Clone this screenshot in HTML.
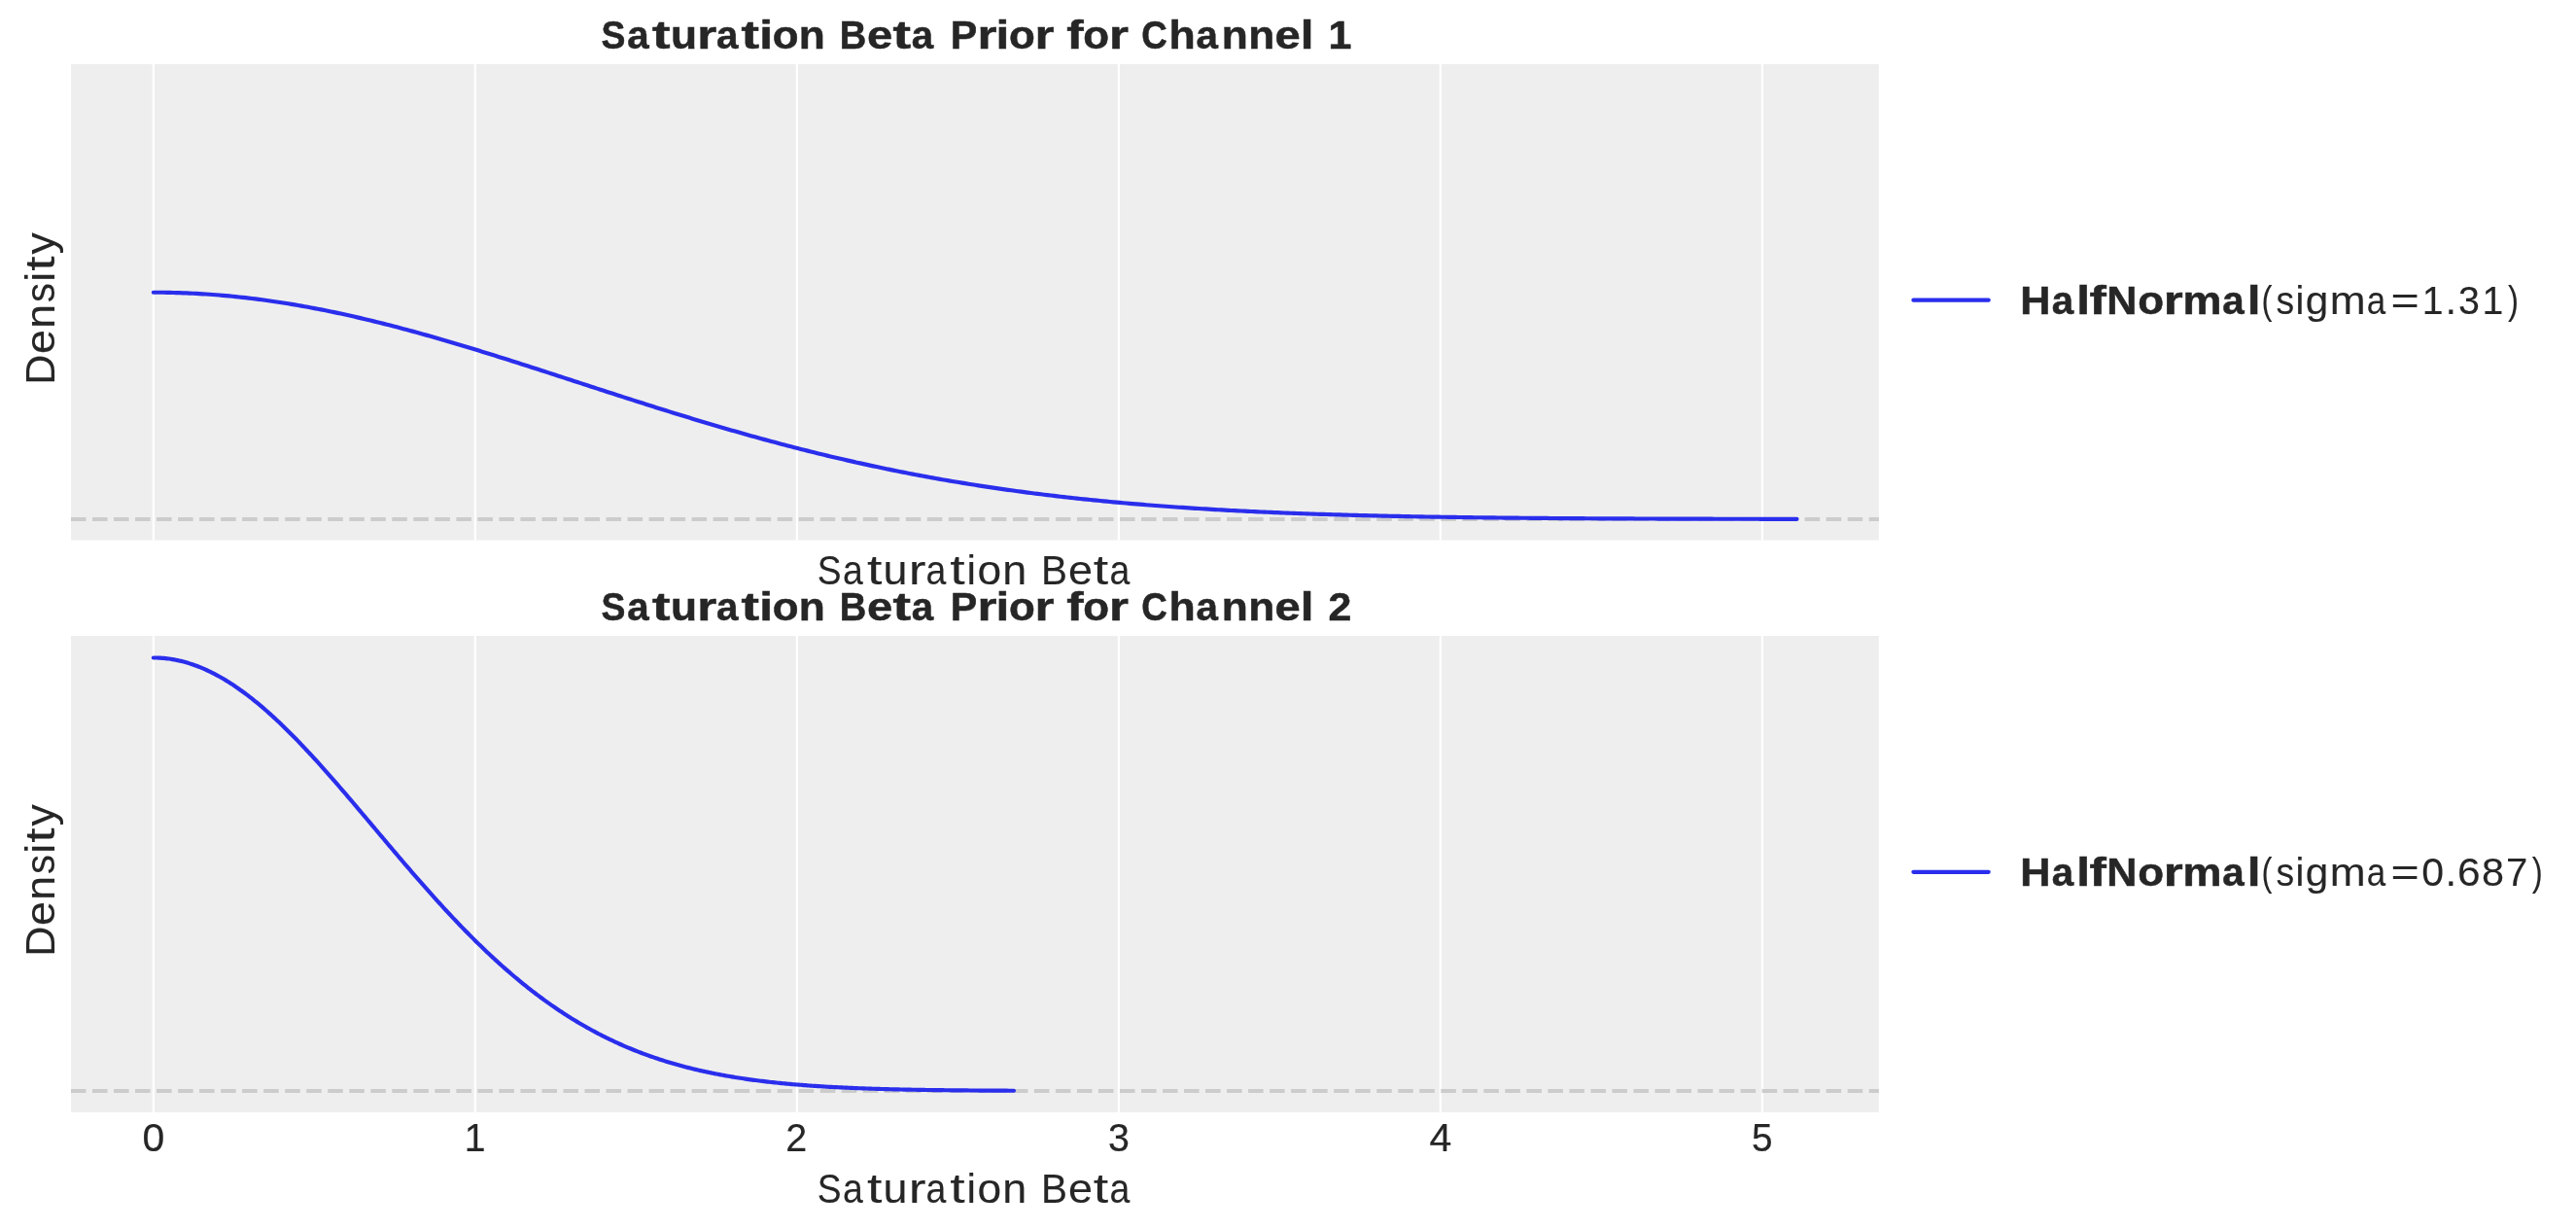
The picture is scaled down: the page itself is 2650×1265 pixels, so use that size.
<!DOCTYPE html>
<html><head><meta charset="utf-8"><title>Saturation Beta Priors</title>
<style>html,body{margin:0;padding:0;background:#fff;overflow:hidden}svg{display:block;will-change:transform}text{font-family:"Liberation Sans",sans-serif}</style>
</head><body>
<svg width="2650" height="1265" viewBox="0 0 2650 1265">
<rect x="0" y="0" width="2650" height="1265" fill="#ffffff"/>
<rect x="73.0" y="66.0" width="1859.85" height="489.60" fill="#eeeeee"/>
<rect x="156.74" y="66.0" width="2.22" height="489.60" fill="#ffffff"/>
<rect x="487.74" y="66.0" width="2.22" height="489.60" fill="#ffffff"/>
<rect x="818.74" y="66.0" width="2.22" height="489.60" fill="#ffffff"/>
<rect x="1149.74" y="66.0" width="2.22" height="489.60" fill="#ffffff"/>
<rect x="1480.74" y="66.0" width="2.22" height="489.60" fill="#ffffff"/>
<rect x="1811.74" y="66.0" width="2.22" height="489.60" fill="#ffffff"/>
<line x1="73.0" y1="533.96" x2="1932.85" y2="533.96" stroke="#cccccc" stroke-width="4.0" stroke-dasharray="15.55 6.47"/>
<polyline points="157.85,300.72 161.23,300.73 164.61,300.75 167.99,300.79 171.37,300.84 174.76,300.90 178.14,300.98 181.52,301.07 184.90,301.18 188.28,301.30 191.66,301.43 195.04,301.58 198.42,301.74 201.81,301.91 205.19,302.10 208.57,302.31 211.95,302.52 215.33,302.76 218.71,303.00 222.09,303.26 225.47,303.53 228.86,303.82 232.24,304.12 235.62,304.43 239.00,304.76 242.38,305.10 245.76,305.45 249.14,305.82 252.52,306.19 255.91,306.59 259.29,306.99 262.67,307.41 266.05,307.84 269.43,308.29 272.81,308.75 276.19,309.22 279.57,309.70 282.95,310.19 286.34,310.70 289.72,311.22 293.10,311.75 296.48,312.30 299.86,312.85 303.24,313.42 306.62,314.00 310.00,314.59 313.39,315.20 316.77,315.81 320.15,316.44 323.53,317.08 326.91,317.72 330.29,318.38 333.67,319.06 337.05,319.74 340.44,320.43 343.82,321.13 347.20,321.85 350.58,322.57 353.96,323.31 357.34,324.05 360.72,324.81 364.10,325.57 367.49,326.35 370.87,327.13 374.25,327.92 377.63,328.73 381.01,329.54 384.39,330.36 387.77,331.19 391.15,332.03 394.53,332.88 397.92,333.73 401.30,334.60 404.68,335.47 408.06,336.35 411.44,337.24 414.82,338.14 418.20,339.05 421.58,339.96 424.97,340.88 428.35,341.81 431.73,342.74 435.11,343.68 438.49,344.63 441.87,345.58 445.25,346.55 448.63,347.51 452.02,348.49 455.40,349.47 458.78,350.45 462.16,351.44 465.54,352.44 468.92,353.44 472.30,354.45 475.68,355.47 479.07,356.48 482.45,357.51 485.83,358.54 489.21,359.57 492.59,360.61 495.97,361.65 499.35,362.69 502.73,363.74 506.11,364.79 509.50,365.85 512.88,366.91 516.26,367.97 519.64,369.04 523.02,370.11 526.40,371.18 529.78,372.26 533.16,373.34 536.55,374.42 539.93,375.50 543.31,376.59 546.69,377.67 550.07,378.76 553.45,379.85 556.83,380.95 560.21,382.04 563.60,383.14 566.98,384.23 570.36,385.33 573.74,386.43 577.12,387.53 580.50,388.63 583.88,389.73 587.26,390.83 590.64,391.93 594.03,393.03 597.41,394.13 600.79,395.23 604.17,396.33 607.55,397.43 610.93,398.53 614.31,399.63 617.69,400.73 621.08,401.82 624.46,402.92 627.84,404.01 631.22,405.10 634.60,406.20 637.98,407.29 641.36,408.37 644.74,409.46 648.13,410.55 651.51,411.63 654.89,412.71 658.27,413.79 661.65,414.86 665.03,415.93 668.41,417.01 671.79,418.07 675.18,419.14 678.56,420.20 681.94,421.26 685.32,422.32 688.70,423.37 692.08,424.42 695.46,425.46 698.84,426.51 702.22,427.55 705.61,428.58 708.99,429.61 712.37,430.64 715.75,431.67 719.13,432.69 722.51,433.70 725.89,434.71 729.27,435.72 732.66,436.72 736.04,437.72 739.42,438.72 742.80,439.71 746.18,440.69 749.56,441.67 752.94,442.65 756.32,443.62 759.71,444.58 763.09,445.54 766.47,446.50 769.85,447.45 773.23,448.40 776.61,449.34 779.99,450.27 783.37,451.20 786.76,452.12 790.14,453.04 793.52,453.96 796.90,454.86 800.28,455.77 803.66,456.66 807.04,457.55 810.42,458.44 813.80,459.32 817.19,460.19 820.57,461.06 823.95,461.92 827.33,462.78 830.71,463.63 834.09,464.47 837.47,465.31 840.85,466.15 844.24,466.97 847.62,467.79 851.00,468.61 854.38,469.41 857.76,470.22 861.14,471.01 864.52,471.80 867.90,472.59 871.29,473.36 874.67,474.13 878.05,474.90 881.43,475.66 884.81,476.41 888.19,477.16 891.57,477.90 894.95,478.63 898.34,479.36 901.72,480.08 905.10,480.79 908.48,481.50 911.86,482.20 915.24,482.90 918.62,483.59 922.00,484.27 925.38,484.95 928.77,485.62 932.15,486.28 935.53,486.94 938.91,487.59 942.29,488.24 945.67,488.88 949.05,489.51 952.43,490.14 955.82,490.76 959.20,491.37 962.58,491.98 965.96,492.58 969.34,493.18 972.72,493.77 976.10,494.35 979.48,494.93 982.87,495.50 986.25,496.06 989.63,496.62 993.01,497.17 996.39,497.72 999.77,498.26 1003.15,498.80 1006.53,499.33 1009.92,499.85 1013.30,500.37 1016.68,500.88 1020.06,501.39 1023.44,501.89 1026.82,502.38 1030.20,502.87 1033.58,503.35 1036.96,503.83 1040.35,504.30 1043.73,504.77 1047.11,505.23 1050.49,505.68 1053.87,506.13 1057.25,506.57 1060.63,507.01 1064.01,507.45 1067.40,507.87 1070.78,508.30 1074.16,508.71 1077.54,509.12 1080.92,509.53 1084.30,509.93 1087.68,510.33 1091.06,510.72 1094.45,511.10 1097.83,511.49 1101.21,511.86 1104.59,512.23 1107.97,512.60 1111.35,512.96 1114.73,513.31 1118.11,513.67 1121.50,514.01 1124.88,514.35 1128.26,514.69 1131.64,515.02 1135.02,515.35 1138.40,515.68 1141.78,515.99 1145.16,516.31 1148.54,516.62 1151.93,516.92 1155.31,517.22 1158.69,517.52 1162.07,517.81 1165.45,518.10 1168.83,518.39 1172.21,518.67 1175.59,518.94 1178.98,519.21 1182.36,519.48 1185.74,519.74 1189.12,520.00 1192.50,520.26 1195.88,520.51 1199.26,520.76 1202.64,521.00 1206.03,521.25 1209.41,521.48 1212.79,521.72 1216.17,521.94 1219.55,522.17 1222.93,522.39 1226.31,522.61 1229.69,522.83 1233.08,523.04 1236.46,523.25 1239.84,523.45 1243.22,523.65 1246.60,523.85 1249.98,524.05 1253.36,524.24 1256.74,524.43 1260.12,524.62 1263.51,524.80 1266.89,524.98 1270.27,525.16 1273.65,525.33 1277.03,525.50 1280.41,525.67 1283.79,525.83 1287.17,526.00 1290.56,526.16 1293.94,526.31 1297.32,526.47 1300.70,526.62 1304.08,526.77 1307.46,526.91 1310.84,527.06 1314.22,527.20 1317.61,527.34 1320.99,527.47 1324.37,527.61 1327.75,527.74 1331.13,527.87 1334.51,528.00 1337.89,528.12 1341.27,528.24 1344.65,528.36 1348.04,528.48 1351.42,528.60 1354.80,528.71 1358.18,528.82 1361.56,528.93 1364.94,529.04 1368.32,529.14 1371.70,529.25 1375.09,529.35 1378.47,529.45 1381.85,529.55 1385.23,529.64 1388.61,529.74 1391.99,529.83 1395.37,529.92 1398.75,530.01 1402.14,530.09 1405.52,530.18 1408.90,530.26 1412.28,530.34 1415.66,530.43 1419.04,530.50 1422.42,530.58 1425.80,530.66 1429.19,530.73 1432.57,530.80 1435.95,530.88 1439.33,530.95 1442.71,531.01 1446.09,531.08 1449.47,531.15 1452.85,531.21 1456.23,531.27 1459.62,531.34 1463.00,531.40 1466.38,531.46 1469.76,531.51 1473.14,531.57 1476.52,531.63 1479.90,531.68 1483.28,531.73 1486.67,531.79 1490.05,531.84 1493.43,531.89 1496.81,531.94 1500.19,531.98 1503.57,532.03 1506.95,532.08 1510.33,532.12 1513.72,532.17 1517.10,532.21 1520.48,532.25 1523.86,532.29 1527.24,532.33 1530.62,532.37 1534.00,532.41 1537.38,532.45 1540.77,532.49 1544.15,532.52 1547.53,532.56 1550.91,532.59 1554.29,532.63 1557.67,532.66 1561.05,532.69 1564.43,532.72 1567.81,532.75 1571.20,532.78 1574.58,532.81 1577.96,532.84 1581.34,532.87 1584.72,532.90 1588.10,532.92 1591.48,532.95 1594.86,532.98 1598.25,533.00 1601.63,533.03 1605.01,533.05 1608.39,533.07 1611.77,533.10 1615.15,533.12 1618.53,533.14 1621.91,533.16 1625.30,533.18 1628.68,533.20 1632.06,533.22 1635.44,533.24 1638.82,533.26 1642.20,533.28 1645.58,533.30 1648.96,533.31 1652.35,533.33 1655.73,533.35 1659.11,533.36 1662.49,533.38 1665.87,533.39 1669.25,533.41 1672.63,533.42 1676.01,533.44 1679.39,533.45 1682.78,533.47 1686.16,533.48 1689.54,533.49 1692.92,533.51 1696.30,533.52 1699.68,533.53 1703.06,533.54 1706.44,533.55 1709.83,533.56 1713.21,533.57 1716.59,533.59 1719.97,533.60 1723.35,533.61 1726.73,533.62 1730.11,533.63 1733.49,533.63 1736.88,533.64 1740.26,533.65 1743.64,533.66 1747.02,533.67 1750.40,533.68 1753.78,533.69 1757.16,533.69 1760.54,533.70 1763.93,533.71 1767.31,533.72 1770.69,533.72 1774.07,533.73 1777.45,533.74 1780.83,533.74 1784.21,533.75 1787.59,533.75 1790.97,533.76 1794.36,533.77 1797.74,533.77 1801.12,533.78 1804.50,533.78 1807.88,533.79 1811.26,533.79 1814.64,533.80 1818.02,533.80 1821.41,533.81 1824.79,533.81 1828.17,533.82 1831.55,533.82 1834.93,533.82 1838.31,533.83 1841.69,533.83 1845.07,533.84 1848.46,533.84" fill="none" stroke="#2a2eec" stroke-width="4.17" stroke-linecap="round" stroke-linejoin="round"/>
<rect x="73.0" y="654.0" width="1859.85" height="490.00" fill="#eeeeee"/>
<rect x="156.74" y="654.0" width="2.22" height="490.00" fill="#ffffff"/>
<rect x="487.74" y="654.0" width="2.22" height="490.00" fill="#ffffff"/>
<rect x="818.74" y="654.0" width="2.22" height="490.00" fill="#ffffff"/>
<rect x="1149.74" y="654.0" width="2.22" height="490.00" fill="#ffffff"/>
<rect x="1480.74" y="654.0" width="2.22" height="490.00" fill="#ffffff"/>
<rect x="1811.74" y="654.0" width="2.22" height="490.00" fill="#ffffff"/>
<line x1="73.0" y1="1121.96" x2="1932.85" y2="1121.96" stroke="#cccccc" stroke-width="4.0" stroke-dasharray="15.55 6.47"/>
<polyline points="157.85,676.46 159.62,676.47 161.39,676.51 163.16,676.58 164.93,676.68 166.70,676.80 168.47,676.95 170.24,677.12 172.01,677.32 173.78,677.55 175.55,677.81 177.32,678.09 179.09,678.40 180.86,678.73 182.63,679.10 184.40,679.48 186.17,679.90 187.94,680.34 189.71,680.81 191.48,681.30 193.25,681.82 195.02,682.37 196.79,682.94 198.56,683.54 200.33,684.16 202.10,684.81 203.87,685.48 205.65,686.18 207.42,686.91 209.19,687.66 210.96,688.43 212.73,689.23 214.50,690.06 216.27,690.91 218.04,691.78 219.81,692.68 221.58,693.60 223.35,694.55 225.12,695.52 226.89,696.51 228.66,697.52 230.43,698.56 232.20,699.63 233.97,700.71 235.74,701.82 237.51,702.95 239.28,704.10 241.05,705.28 242.82,706.47 244.59,707.69 246.36,708.93 248.13,710.19 249.90,711.48 251.67,712.78 253.44,714.10 255.21,715.45 256.98,716.81 258.75,718.19 260.52,719.60 262.29,721.02 264.06,722.46 265.83,723.92 267.60,725.40 269.37,726.90 271.14,728.41 272.91,729.95 274.68,731.50 276.45,733.07 278.22,734.65 279.99,736.26 281.76,737.88 283.53,739.51 285.30,741.17 287.07,742.83 288.84,744.52 290.61,746.22 292.38,747.93 294.15,749.66 295.92,751.40 297.70,753.16 299.47,754.93 301.24,756.71 303.01,758.51 304.78,760.32 306.55,762.15 308.32,763.98 310.09,765.83 311.86,767.69 313.63,769.56 315.40,771.45 317.17,773.34 318.94,775.24 320.71,777.16 322.48,779.09 324.25,781.02 326.02,782.97 327.79,784.92 329.56,786.88 331.33,788.86 333.10,790.84 334.87,792.83 336.64,794.82 338.41,796.83 340.18,798.84 341.95,800.86 343.72,802.88 345.49,804.91 347.26,806.95 349.03,809.00 350.80,811.05 352.57,813.10 354.34,815.16 356.11,817.22 357.88,819.29 359.65,821.36 361.42,823.44 363.19,825.52 364.96,827.61 366.73,829.69 368.50,831.78 370.27,833.87 372.04,835.97 373.81,838.06 375.58,840.16 377.35,842.26 379.12,844.36 380.89,846.46 382.66,848.57 384.43,850.67 386.20,852.77 387.97,854.87 389.74,856.97 391.52,859.08 393.29,861.18 395.06,863.28 396.83,865.37 398.60,867.47 400.37,869.56 402.14,871.66 403.91,873.75 405.68,875.84 407.45,877.92 409.22,880.00 410.99,882.08 412.76,884.16 414.53,886.23 416.30,888.29 418.07,890.36 419.84,892.42 421.61,894.47 423.38,896.52 425.15,898.57 426.92,900.61 428.69,902.64 430.46,904.67 432.23,906.69 434.00,908.71 435.77,910.72 437.54,912.73 439.31,914.72 441.08,916.72 442.85,918.70 444.62,920.68 446.39,922.65 448.16,924.61 449.93,926.57 451.70,928.52 453.47,930.46 455.24,932.39 457.01,934.31 458.78,936.23 460.55,938.14 462.32,940.04 464.09,941.93 465.86,943.81 467.63,945.68 469.40,947.54 471.17,949.40 472.94,951.24 474.71,953.08 476.48,954.90 478.25,956.72 480.02,958.52 481.79,960.32 483.57,962.11 485.34,963.88 487.11,965.65 488.88,967.40 490.65,969.15 492.42,970.88 494.19,972.60 495.96,974.32 497.73,976.02 499.50,977.71 501.27,979.39 503.04,981.06 504.81,982.72 506.58,984.36 508.35,986.00 510.12,987.62 511.89,989.24 513.66,990.84 515.43,992.43 517.20,994.01 518.97,995.57 520.74,997.13 522.51,998.67 524.28,1000.20 526.05,1001.72 527.82,1003.23 529.59,1004.73 531.36,1006.21 533.13,1007.69 534.90,1009.15 536.67,1010.60 538.44,1012.03 540.21,1013.46 541.98,1014.87 543.75,1016.27 545.52,1017.66 547.29,1019.04 549.06,1020.40 550.83,1021.76 552.60,1023.10 554.37,1024.43 556.14,1025.74 557.91,1027.05 559.68,1028.34 561.45,1029.62 563.22,1030.89 564.99,1032.15 566.76,1033.39 568.53,1034.62 570.30,1035.84 572.07,1037.05 573.84,1038.25 575.61,1039.44 577.39,1040.61 579.16,1041.77 580.93,1042.92 582.70,1044.06 584.47,1045.18 586.24,1046.30 588.01,1047.40 589.78,1048.49 591.55,1049.57 593.32,1050.64 595.09,1051.70 596.86,1052.74 598.63,1053.78 600.40,1054.80 602.17,1055.81 603.94,1056.81 605.71,1057.80 607.48,1058.77 609.25,1059.74 611.02,1060.70 612.79,1061.64 614.56,1062.57 616.33,1063.50 618.10,1064.41 619.87,1065.31 621.64,1066.20 623.41,1067.08 625.18,1067.95 626.95,1068.80 628.72,1069.65 630.49,1070.49 632.26,1071.32 634.03,1072.13 635.80,1072.94 637.57,1073.73 639.34,1074.52 641.11,1075.30 642.88,1076.06 644.65,1076.82 646.42,1077.57 648.19,1078.30 649.96,1079.03 651.73,1079.75 653.50,1080.46 655.27,1081.16 657.04,1081.85 658.81,1082.53 660.58,1083.20 662.35,1083.86 664.12,1084.51 665.89,1085.16 667.66,1085.79 669.44,1086.42 671.21,1087.03 672.98,1087.64 674.75,1088.24 676.52,1088.84 678.29,1089.42 680.06,1089.99 681.83,1090.56 683.60,1091.12 685.37,1091.67 687.14,1092.21 688.91,1092.75 690.68,1093.27 692.45,1093.79 694.22,1094.30 695.99,1094.81 697.76,1095.30 699.53,1095.79 701.30,1096.27 703.07,1096.75 704.84,1097.21 706.61,1097.67 708.38,1098.13 710.15,1098.57 711.92,1099.01 713.69,1099.44 715.46,1099.87 717.23,1100.28 719.00,1100.70 720.77,1101.10 722.54,1101.50 724.31,1101.89 726.08,1102.28 727.85,1102.66 729.62,1103.03 731.39,1103.40 733.16,1103.76 734.93,1104.11 736.70,1104.46 738.47,1104.81 740.24,1105.14 742.01,1105.48 743.78,1105.80 745.55,1106.12 747.32,1106.44 749.09,1106.75 750.86,1107.05 752.63,1107.35 754.40,1107.65 756.17,1107.94 757.94,1108.22 759.71,1108.50 761.48,1108.78 763.26,1109.05 765.03,1109.31 766.80,1109.57 768.57,1109.83 770.34,1110.08 772.11,1110.33 773.88,1110.57 775.65,1110.81 777.42,1111.04 779.19,1111.27 780.96,1111.49 782.73,1111.71 784.50,1111.93 786.27,1112.14 788.04,1112.35 789.81,1112.56 791.58,1112.76 793.35,1112.96 795.12,1113.15 796.89,1113.34 798.66,1113.53 800.43,1113.71 802.20,1113.89 803.97,1114.07 805.74,1114.24 807.51,1114.41 809.28,1114.58 811.05,1114.74 812.82,1114.90 814.59,1115.05 816.36,1115.21 818.13,1115.36 819.90,1115.51 821.67,1115.65 823.44,1115.79 825.21,1115.93 826.98,1116.07 828.75,1116.20 830.52,1116.33 832.29,1116.46 834.06,1116.59 835.83,1116.71 837.60,1116.83 839.37,1116.95 841.14,1117.06 842.91,1117.18 844.68,1117.29 846.45,1117.40 848.22,1117.50 849.99,1117.61 851.76,1117.71 853.53,1117.81 855.31,1117.91 857.08,1118.00 858.85,1118.10 860.62,1118.19 862.39,1118.28 864.16,1118.36 865.93,1118.45 867.70,1118.53 869.47,1118.62 871.24,1118.70 873.01,1118.78 874.78,1118.85 876.55,1118.93 878.32,1119.00 880.09,1119.07 881.86,1119.14 883.63,1119.21 885.40,1119.28 887.17,1119.35 888.94,1119.41 890.71,1119.47 892.48,1119.54 894.25,1119.60 896.02,1119.66 897.79,1119.71 899.56,1119.77 901.33,1119.82 903.10,1119.88 904.87,1119.93 906.64,1119.98 908.41,1120.03 910.18,1120.08 911.95,1120.13 913.72,1120.17 915.49,1120.22 917.26,1120.27 919.03,1120.31 920.80,1120.35 922.57,1120.39 924.34,1120.43 926.11,1120.47 927.88,1120.51 929.65,1120.55 931.42,1120.59 933.19,1120.62 934.96,1120.66 936.73,1120.69 938.50,1120.72 940.27,1120.76 942.04,1120.79 943.81,1120.82 945.58,1120.85 947.35,1120.88 949.13,1120.91 950.90,1120.94 952.67,1120.96 954.44,1120.99 956.21,1121.02 957.98,1121.04 959.75,1121.07 961.52,1121.09 963.29,1121.11 965.06,1121.14 966.83,1121.16 968.60,1121.18 970.37,1121.20 972.14,1121.22 973.91,1121.24 975.68,1121.26 977.45,1121.28 979.22,1121.30 980.99,1121.32 982.76,1121.34 984.53,1121.36 986.30,1121.37 988.07,1121.39 989.84,1121.40 991.61,1121.42 993.38,1121.44 995.15,1121.45 996.92,1121.46 998.69,1121.48 1000.46,1121.49 1002.23,1121.51 1004.00,1121.52 1005.77,1121.53 1007.54,1121.54 1009.31,1121.56 1011.08,1121.57 1012.85,1121.58 1014.62,1121.59 1016.39,1121.60 1018.16,1121.61 1019.93,1121.62 1021.70,1121.63 1023.47,1121.64 1025.24,1121.65 1027.01,1121.66 1028.78,1121.67 1030.55,1121.68 1032.32,1121.68 1034.09,1121.69 1035.86,1121.70 1037.63,1121.71 1039.40,1121.72 1041.18,1121.72 1042.95,1121.73" fill="none" stroke="#2a2eec" stroke-width="4.17" stroke-linecap="round" stroke-linejoin="round"/>
<g fill="#262626" stroke="#262626" stroke-width="0" font-family="Liberation Sans, sans-serif">
<g font-size="40.25" font-weight="bold" stroke-width="0.5"><text transform="translate(630.78,49.80) scale(0.927,1)" x="-13.22">S</text><text transform="translate(657.23,49.80) scale(1.001,1)" x="-11.91">a</text><text transform="translate(680.15,49.80) scale(1.382,1)" x="-6.70">t</text><text transform="translate(703.37,49.80) scale(1.100,1)" x="-12.22">u</text><text transform="translate(728.49,49.80) scale(1.274,1)" x="-8.86">r</text><text transform="translate(748.93,49.80) scale(1.001,1)" x="-11.91">a</text><text transform="translate(771.85,49.80) scale(1.382,1)" x="-6.70">t</text><text transform="translate(788.01,49.80) scale(1.234,1)" x="-5.57">i</text><text transform="translate(808.03,49.80) scale(1.089,1)" x="-12.30">o</text><text transform="translate(835.35,49.80) scale(1.100,1)" x="-12.38">n</text><text transform="translate(877.86,49.80) scale(0.950,1)" x="-14.97">B</text><text transform="translate(905.35,49.80) scale(1.174,1)" x="-11.29">e</text><text transform="translate(927.74,49.80) scale(1.382,1)" x="-6.70">t</text><text transform="translate(949.65,49.80) scale(1.001,1)" x="-11.91">a</text><text transform="translate(992.25,49.80) scale(1.024,1)" x="-14.09">P</text><text transform="translate(1016.67,49.80) scale(1.274,1)" x="-8.86">r</text><text transform="translate(1031.36,49.80) scale(1.234,1)" x="-5.57">i</text><text transform="translate(1051.38,49.80) scale(1.089,1)" x="-12.30">o</text><text transform="translate(1075.90,49.80) scale(1.274,1)" x="-8.86">r</text><text transform="translate(1106.46,49.80) scale(1.291,1)" x="-7.08">f</text><text transform="translate(1127.74,49.80) scale(1.089,1)" x="-12.30">o</text><text transform="translate(1152.26,49.80) scale(1.274,1)" x="-8.86">r</text><text transform="translate(1187.82,49.80) scale(0.916,1)" x="-14.81">C</text><text transform="translate(1216.32,49.80) scale(1.109,1)" x="-12.46">h</text><text transform="translate(1242.47,49.80) scale(1.001,1)" x="-11.91">a</text><text transform="translate(1270.25,49.80) scale(1.100,1)" x="-12.38">n</text><text transform="translate(1297.93,49.80) scale(1.100,1)" x="-12.38">n</text><text transform="translate(1324.75,49.80) scale(1.174,1)" x="-11.29">e</text><text transform="translate(1344.71,49.80) scale(1.234,1)" x="-5.57">l</text><text transform="translate(1379.29,49.80) scale(1.068,1)" x="-11.89">1</text></g>
<g font-size="40.25" font-weight="bold" stroke-width="0.5"><text transform="translate(630.78,637.80) scale(0.927,1)" x="-13.22">S</text><text transform="translate(657.23,637.80) scale(1.001,1)" x="-11.91">a</text><text transform="translate(680.15,637.80) scale(1.382,1)" x="-6.70">t</text><text transform="translate(703.37,637.80) scale(1.100,1)" x="-12.22">u</text><text transform="translate(728.49,637.80) scale(1.274,1)" x="-8.86">r</text><text transform="translate(748.93,637.80) scale(1.001,1)" x="-11.91">a</text><text transform="translate(771.85,637.80) scale(1.382,1)" x="-6.70">t</text><text transform="translate(788.01,637.80) scale(1.234,1)" x="-5.57">i</text><text transform="translate(808.03,637.80) scale(1.089,1)" x="-12.30">o</text><text transform="translate(835.35,637.80) scale(1.100,1)" x="-12.38">n</text><text transform="translate(877.86,637.80) scale(0.950,1)" x="-14.97">B</text><text transform="translate(905.35,637.80) scale(1.174,1)" x="-11.29">e</text><text transform="translate(927.74,637.80) scale(1.382,1)" x="-6.70">t</text><text transform="translate(949.65,637.80) scale(1.001,1)" x="-11.91">a</text><text transform="translate(992.25,637.80) scale(1.024,1)" x="-14.09">P</text><text transform="translate(1016.67,637.80) scale(1.274,1)" x="-8.86">r</text><text transform="translate(1031.36,637.80) scale(1.234,1)" x="-5.57">i</text><text transform="translate(1051.38,637.80) scale(1.089,1)" x="-12.30">o</text><text transform="translate(1075.90,637.80) scale(1.274,1)" x="-8.86">r</text><text transform="translate(1106.46,637.80) scale(1.291,1)" x="-7.08">f</text><text transform="translate(1127.74,637.80) scale(1.089,1)" x="-12.30">o</text><text transform="translate(1152.26,637.80) scale(1.274,1)" x="-8.86">r</text><text transform="translate(1187.82,637.80) scale(0.916,1)" x="-14.81">C</text><text transform="translate(1216.32,637.80) scale(1.109,1)" x="-12.46">h</text><text transform="translate(1242.47,637.80) scale(1.001,1)" x="-11.91">a</text><text transform="translate(1270.25,637.80) scale(1.100,1)" x="-12.38">n</text><text transform="translate(1297.93,637.80) scale(1.100,1)" x="-12.38">n</text><text transform="translate(1324.75,637.80) scale(1.174,1)" x="-11.29">e</text><text transform="translate(1344.71,637.80) scale(1.234,1)" x="-5.57">l</text><text transform="translate(1378.28,637.80) scale(1.065,1)" x="-11.09">2</text></g>
<g font-size="43.13" stroke-width="0.1"><text transform="translate(853.09,600.70) scale(0.862,1)" x="-14.38">S</text><text transform="translate(878.23,600.70) scale(0.868,1)" x="-12.90">a</text><text transform="translate(899.87,600.70) scale(1.287,1)" x="-6.17">t</text><text transform="translate(921.06,600.70) scale(1.041,1)" x="-11.97">u</text><text transform="translate(944.84,600.70) scale(1.237,1)" x="-8.24">r</text><text transform="translate(963.64,600.70) scale(0.868,1)" x="-12.90">a</text><text transform="translate(985.28,600.70) scale(1.287,1)" x="-6.17">t</text><text transform="translate(999.18,600.70) scale(0.988,1)" x="-4.79">i</text><text transform="translate(1017.72,600.70) scale(1.028,1)" x="-11.99">o</text><text transform="translate(1043.80,600.70) scale(1.041,1)" x="-12.01">n</text><text transform="translate(1084.97,600.70) scale(0.939,1)" x="-15.01">B</text><text transform="translate(1111.56,600.70) scale(1.042,1)" x="-11.95">e</text><text transform="translate(1132.57,600.70) scale(1.287,1)" x="-6.17">t</text><text transform="translate(1152.81,600.70) scale(0.868,1)" x="-12.90">a</text></g>
<g font-size="43.13" stroke-width="0.1"><text transform="translate(853.09,1236.80) scale(0.862,1)" x="-14.38">S</text><text transform="translate(878.23,1236.80) scale(0.868,1)" x="-12.90">a</text><text transform="translate(899.87,1236.80) scale(1.287,1)" x="-6.17">t</text><text transform="translate(921.06,1236.80) scale(1.041,1)" x="-11.97">u</text><text transform="translate(944.84,1236.80) scale(1.237,1)" x="-8.24">r</text><text transform="translate(963.64,1236.80) scale(0.868,1)" x="-12.90">a</text><text transform="translate(985.28,1236.80) scale(1.287,1)" x="-6.17">t</text><text transform="translate(999.18,1236.80) scale(0.988,1)" x="-4.79">i</text><text transform="translate(1017.72,1236.80) scale(1.028,1)" x="-11.99">o</text><text transform="translate(1043.80,1236.80) scale(1.041,1)" x="-12.01">n</text><text transform="translate(1084.97,1236.80) scale(0.939,1)" x="-15.01">B</text><text transform="translate(1111.56,1236.80) scale(1.042,1)" x="-11.95">e</text><text transform="translate(1132.57,1236.80) scale(1.287,1)" x="-6.17">t</text><text transform="translate(1152.81,1236.80) scale(0.868,1)" x="-12.90">a</text></g>
<g font-size="40.25" stroke-width="0.2"><text transform="translate(157.85,1184.00) scale(1.019,1)" x="-11.19">0</text></g>
<g font-size="40.25" stroke-width="0.2"><text transform="translate(489.20,1184.00) scale(0.973,1)" x="-11.73">1</text></g>
<g font-size="40.25" stroke-width="0.2"><text transform="translate(819.32,1184.00) scale(0.981,1)" x="-11.19">2</text></g>
<g font-size="40.25" stroke-width="0.2"><text transform="translate(1150.77,1184.00) scale(0.978,1)" x="-11.07">3</text></g>
<g font-size="40.25" stroke-width="0.2"><text transform="translate(1481.71,1184.00) scale(1.018,1)" x="-11.07">4</text></g>
<g font-size="40.25" stroke-width="0.2"><text transform="translate(1812.65,1184.00) scale(0.962,1)" x="-11.15">5</text></g>
<g font-size="43.13" stroke-width="0.1"><text transform="translate(55.90,379.53) rotate(-90) scale(1.000,1)" x="-16.30">D</text><text transform="translate(55.90,351.44) rotate(-90) scale(1.042,1)" x="-11.95">e</text><text transform="translate(55.90,325.33) rotate(-90) scale(1.041,1)" x="-12.01">n</text><text transform="translate(55.90,301.29) rotate(-90) scale(0.926,1)" x="-10.61">s</text><text transform="translate(55.90,284.75) rotate(-90) scale(0.988,1)" x="-4.79">i</text><text transform="translate(55.90,270.73) rotate(-90) scale(1.287,1)" x="-6.17">t</text><text transform="translate(55.90,250.29) rotate(-90) scale(1.038,1)" x="-10.80">y</text></g>
<g font-size="43.13" stroke-width="0.1"><text transform="translate(55.85,967.53) rotate(-90) scale(1.000,1)" x="-16.30">D</text><text transform="translate(55.85,939.44) rotate(-90) scale(1.042,1)" x="-11.95">e</text><text transform="translate(55.85,913.33) rotate(-90) scale(1.041,1)" x="-12.01">n</text><text transform="translate(55.85,889.29) rotate(-90) scale(0.926,1)" x="-10.61">s</text><text transform="translate(55.85,872.75) rotate(-90) scale(0.988,1)" x="-4.79">i</text><text transform="translate(55.85,858.73) rotate(-90) scale(1.287,1)" x="-6.17">t</text><text transform="translate(55.85,838.29) rotate(-90) scale(1.038,1)" x="-10.80">y</text></g>
<line x1="1968.4" y1="308.7" x2="2045.7" y2="308.7" stroke="#2a2eec" stroke-width="4.17" stroke-linecap="round"/>
<g font-size="40.25" font-weight="bold" stroke-width="0.5"><text transform="translate(2093.90,323.00) scale(1.073,1)" x="-14.53">H</text><text transform="translate(2122.60,323.00) scale(1.001,1)" x="-11.91">a</text><text transform="translate(2143.08,323.00) scale(1.234,1)" x="-5.57">l</text><text transform="translate(2158.75,323.00) scale(1.291,1)" x="-7.08">f</text><text transform="translate(2182.94,323.00) scale(1.073,1)" x="-14.53">N</text><text transform="translate(2212.57,323.00) scale(1.089,1)" x="-12.30">o</text><text transform="translate(2237.09,323.00) scale(1.274,1)" x="-8.86">r</text><text transform="translate(2265.45,323.00) scale(1.117,1)" x="-17.97">m</text><text transform="translate(2298.06,323.00) scale(1.001,1)" x="-11.91">a</text><text transform="translate(2318.55,323.00) scale(1.234,1)" x="-5.57">l</text></g>
<g font-size="40.25" stroke-width="0.1"><text transform="translate(2332.86,323.00) scale(0.817,1)" x="-7.83">(</text><text transform="translate(2350.56,323.00) scale(0.926,1)" x="-9.90">s</text><text transform="translate(2366.00,323.00) scale(0.988,1)" x="-4.47">i</text><text transform="translate(2383.04,323.00) scale(1.050,1)" x="-10.75">g</text><text transform="translate(2415.14,323.00) scale(1.100,1)" x="-16.76">m</text><text transform="translate(2445.28,323.00) scale(0.868,1)" x="-12.04">a</text><text transform="translate(2474.09,323.00) scale(1.245,1)" x="-11.75">=</text><text transform="translate(2503.10,323.00) scale(0.973,1)" x="-11.73">1</text><text transform="translate(2521.29,323.00) scale(1.037,1)" x="-5.59">.</text><text transform="translate(2539.78,323.00) scale(0.978,1)" x="-11.07">3</text><text transform="translate(2564.95,323.00) scale(0.973,1)" x="-11.73">1</text><text transform="translate(2584.44,323.00) scale(0.817,1)" x="-5.57">)</text></g>
<line x1="1968.4" y1="896.8" x2="2045.7" y2="896.8" stroke="#2a2eec" stroke-width="4.17" stroke-linecap="round"/>
<g font-size="40.25" font-weight="bold" stroke-width="0.5"><text transform="translate(2093.90,911.00) scale(1.073,1)" x="-14.53">H</text><text transform="translate(2122.60,911.00) scale(1.001,1)" x="-11.91">a</text><text transform="translate(2143.08,911.00) scale(1.234,1)" x="-5.57">l</text><text transform="translate(2158.75,911.00) scale(1.291,1)" x="-7.08">f</text><text transform="translate(2182.94,911.00) scale(1.073,1)" x="-14.53">N</text><text transform="translate(2212.57,911.00) scale(1.089,1)" x="-12.30">o</text><text transform="translate(2237.09,911.00) scale(1.274,1)" x="-8.86">r</text><text transform="translate(2265.45,911.00) scale(1.117,1)" x="-17.97">m</text><text transform="translate(2298.06,911.00) scale(1.001,1)" x="-11.91">a</text><text transform="translate(2318.55,911.00) scale(1.234,1)" x="-5.57">l</text></g>
<g font-size="40.25" stroke-width="0.1"><text transform="translate(2332.86,911.00) scale(0.817,1)" x="-7.83">(</text><text transform="translate(2350.56,911.00) scale(0.926,1)" x="-9.90">s</text><text transform="translate(2366.00,911.00) scale(0.988,1)" x="-4.47">i</text><text transform="translate(2383.04,911.00) scale(1.050,1)" x="-10.75">g</text><text transform="translate(2415.14,911.00) scale(1.100,1)" x="-16.76">m</text><text transform="translate(2445.28,911.00) scale(0.868,1)" x="-12.04">a</text><text transform="translate(2474.09,911.00) scale(1.245,1)" x="-11.75">=</text><text transform="translate(2502.75,911.00) scale(1.019,1)" x="-11.19">0</text><text transform="translate(2521.29,911.00) scale(1.037,1)" x="-5.59">.</text><text transform="translate(2539.99,911.00) scale(1.054,1)" x="-11.33">6</text><text transform="translate(2564.60,911.00) scale(1.028,1)" x="-11.19">8</text><text transform="translate(2589.28,911.00) scale(0.996,1)" x="-11.21">7</text><text transform="translate(2609.18,911.00) scale(0.817,1)" x="-5.57">)</text></g>
</g></svg>
</body></html>
